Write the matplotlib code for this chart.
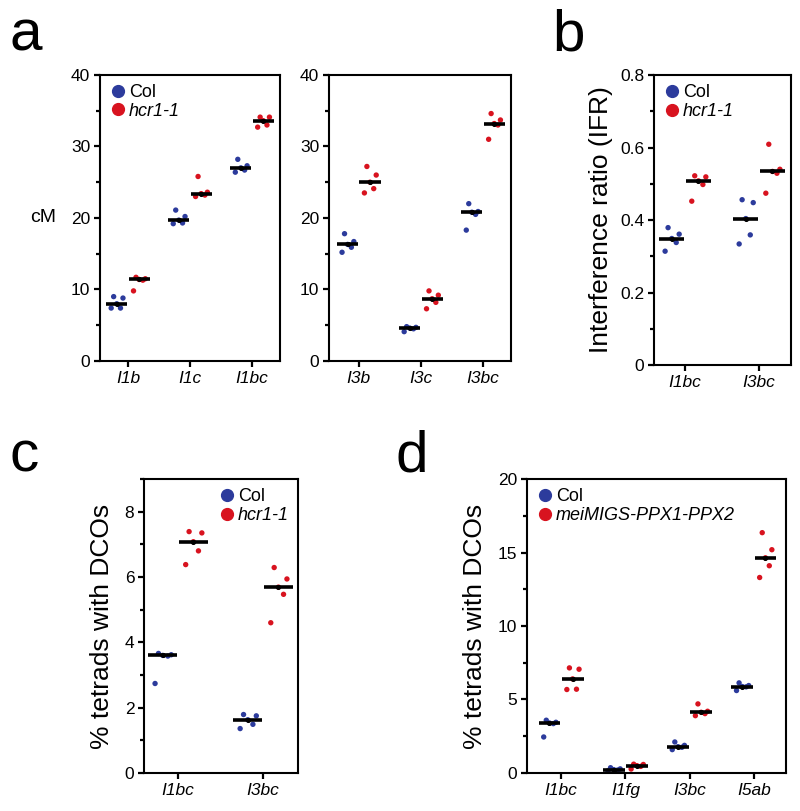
import numpy as np
import matplotlib
matplotlib.use("Agg")
import matplotlib.pyplot as plt
from matplotlib.lines import Line2D
from matplotlib.ticker import MultipleLocator

plt.rcParams["font.family"] = ["Liberation Sans", "DejaVu Sans"]

COL_COLOR = "#2c3b9c"
MUT_COLOR = "#d8131f"

# panel a, left: genetic distance (cM)
a1_intervals = ["I1b", "I1c", "I1bc"]
a1_col = [[7.4, 7.4, 8.0, 8.8, 9.0],
          [19.2, 19.3, 19.7, 20.2, 21.1],
          [26.4, 26.7, 27.0, 27.3, 28.2]]
a1_hcr = [[9.8, 11.3, 11.4, 11.5, 11.7],
          [23.0, 23.2, 23.4, 23.6, 25.8],
          [32.7, 33.0, 33.6, 34.1, 34.1]]

# panel a, right
a2_intervals = ["I3b", "I3c", "I3bc"]
a2_col = [[15.2, 15.9, 16.3, 16.7, 17.8],
          [4.1, 4.5, 4.6, 4.7, 4.8],
          [18.3, 20.5, 20.8, 20.9, 22.0]]
a2_hcr = [[23.5, 24.1, 25.0, 26.0, 27.2],
          [7.3, 8.2, 8.7, 9.2, 9.8],
          [31.0, 33.0, 33.2, 33.7, 34.6]]

# panel b: interference ratio
b_intervals = ["I1bc", "I3bc"]
b_col = [[0.314, 0.338, 0.349, 0.361, 0.379],
         [0.334, 0.359, 0.404, 0.448, 0.456]]
b_hcr = [[0.452, 0.498, 0.508, 0.519, 0.522],
         [0.474, 0.529, 0.534, 0.540, 0.609]]

# panel c: % tetrads with DCOs
c_intervals = ["I1bc", "I3bc"]
c_col = [[2.74, 3.58, 3.60, 3.62, 3.66],
         [1.36, 1.49, 1.63, 1.75, 1.79]]
c_hcr = [[6.38, 6.80, 7.08, 7.35, 7.39],
         [4.60, 5.47, 5.69, 5.94, 6.29]]

# panel d: % tetrads with DCOs
d_intervals = ["I1bc", "I1fg", "I3bc", "I5ab"]
d_col = [[2.45, 3.36, 3.40, 3.45, 3.59],
         [0.15, 0.20, 0.23, 0.28, 0.36],
         [1.59, 1.75, 1.79, 1.88, 2.11],
         [5.61, 5.86, 5.88, 5.95, 6.13]]
d_mig = [[5.68, 5.70, 6.40, 7.06, 7.15],
         [0.27, 0.45, 0.50, 0.58, 0.60],
         [3.90, 4.04, 4.13, 4.20, 4.70],
         [13.3, 14.1, 14.64, 15.19, 16.35]]

JITTER = [-0.09, 0.06, 0.0, 0.10, -0.05]
SHIFT = 0.18
BAR = 0.17


def dots(ax, xc, vals, color):
    vals = np.asarray(vals)
    xs = xc + np.array(JITTER[:len(vals)])
    ax.scatter(xs, vals, s=15, color=color, edgecolors="none", zorder=2)
    med = np.median(vals)
    ax.plot([xc - BAR, xc + BAR], [med, med], color="black", lw=2.6,
            solid_capstyle="butt", zorder=3)
    ax.scatter([xc], [med], s=7, color="black", zorder=4)


def panel(ax, names, col, mut, ylim, major, minor, xlim):
    for i, (cv, mv) in enumerate(zip(col, mut)):
        x = i + 1
        dots(ax, x - SHIFT, cv, COL_COLOR)
        dots(ax, x + SHIFT, mv, MUT_COLOR)
    ax.set_xlim(*xlim)
    ax.set_ylim(*ylim)
    ax.set_xticks(range(1, len(names) + 1))
    ax.set_xticklabels(names, fontstyle="italic", fontsize=13.5)
    ax.yaxis.set_major_locator(MultipleLocator(major))
    ax.yaxis.set_minor_locator(MultipleLocator(minor))
    ax.tick_params(axis="both", which="both", direction="out", width=1.6,
                   labelsize=12.5, pad=3)
    ax.tick_params(axis="both", which="major", length=4)
    ax.tick_params(axis="y", which="minor", length=3)
    ax.tick_params(axis="x", which="minor", bottom=False)
    for sp in ax.spines.values():
        sp.set_linewidth(1.5)


def legend(ax, mut_label, loc, anchor):
    handles = [Line2D([], [], ls="", marker="o", ms=8.5, color=COL_COLOR),
               Line2D([], [], ls="", marker="o", ms=8.5, color=MUT_COLOR)]
    leg = ax.legend(handles, ["Col", mut_label], loc=loc, bbox_to_anchor=anchor,
                    frameon=False, fontsize=13, handletextpad=0.1,
                    handlelength=1.0, labelspacing=0.1, borderaxespad=0.1)
    leg.get_texts()[1].set_fontstyle("italic")


fig = plt.figure(figsize=(8, 8.11), dpi=100)

ax_a1 = fig.add_axes([0.125, 0.5549, 0.225, 0.3527])
panel(ax_a1, a1_intervals, a1_col, a1_hcr, (0, 40), 10, 5, (0.55, 3.45))
legend(ax_a1, "hcr1-1", "upper left", (0.0, 1.0))
ax_a1.set_ylabel("cM", rotation=0, fontsize=14, labelpad=20, va="center")

ax_a2 = fig.add_axes([0.41125, 0.5549, 0.2275, 0.3527])
panel(ax_a2, a2_intervals, a2_col, a2_hcr, (0, 40), 10, 5, (0.52, 3.45))

ax_b = fig.add_axes([0.8175, 0.5499, 0.17125, 0.3576])
panel(ax_b, b_intervals, b_col, b_hcr, (0, 0.8), 0.2, 0.1, (0.58, 2.43))
ax_b.set_yticks([0, 0.2, 0.4, 0.6, 0.8])
ax_b.set_yticklabels(["0", "0.2", "0.4", "0.6", "0.8"])
legend(ax_b, "hcr1-1", "upper left", (0.0, 1.0))
ax_b.set_ylabel("Interference ratio (IFR)", fontsize=19, labelpad=5)

ax_c = fig.add_axes([0.18, 0.04686, 0.1925, 0.3625])
panel(ax_c, c_intervals, c_col, c_hcr, (0, 9), 2, 1, (0.6, 2.41))
legend(ax_c, "hcr1-1", "upper right", (1.0, 1.0))
ax_c.set_ylabel("% tetrads with DCOs", fontsize=19, labelpad=8)

ax_d = fig.add_axes([0.65875, 0.04686, 0.32375, 0.3625])
panel(ax_d, d_intervals, d_col, d_mig, (0, 20), 5, 2.5, (0.47, 4.5))
legend(ax_d, "meiMIGS-PPX1-PPX2", "upper left", (0.0, 1.0))
ax_d.set_ylabel("% tetrads with DCOs", fontsize=19, labelpad=8)

for lbl, x, y in [("a", 0.012, 0.99), ("b", 0.69, 0.99),
                  ("c", 0.012, 0.47), ("d", 0.495, 0.47)]:
    fig.text(x, y, lbl, fontsize=42, va="top", ha="left")

fig.savefig("out.png", dpi=100)
